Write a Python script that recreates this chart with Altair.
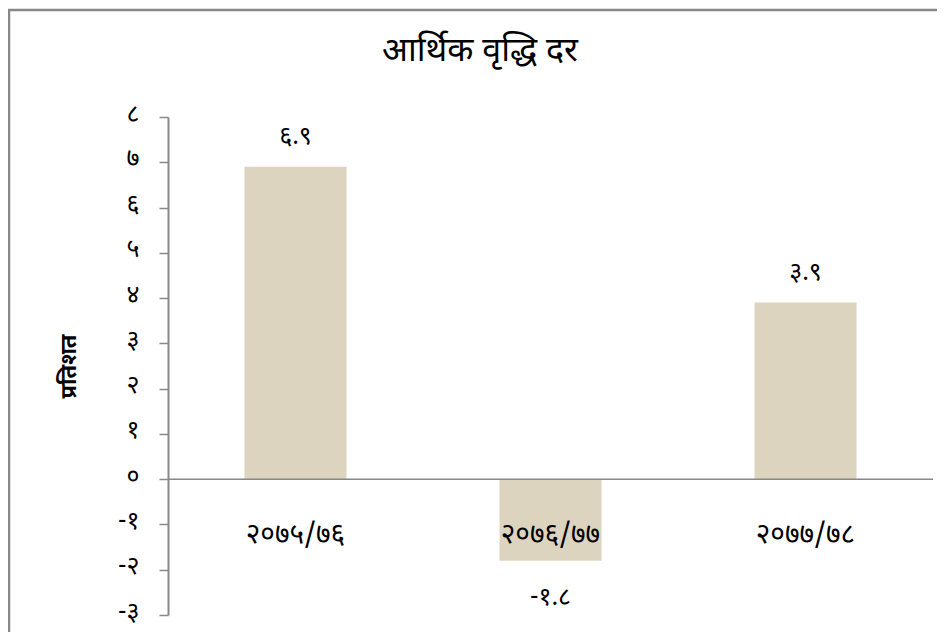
import altair as alt
import pandas as pd

title_text = "आर्थिक वृद्धि दर"
categories = ["२०७५/७६", "२०७६/७७", "२०७७/७८"]
values = [6.9, -1.8, 3.9]
value_labels = ["६.९", "-१.८", "३.९"]
tick_values = [-3, -2, -1, 0, 1, 2, 3, 4, 5, 6, 7, 8]
tick_labels = ["-३", "-२", "-१", "०", "१", "२", "३", "४", "५", "६", "७", "८"]

FONT = "Noto Sans Devanagari, Noto Sans, Lohit Devanagari, sans-serif"

df = pd.DataFrame({"cat": categories, "val": values, "lbl": value_labels})

label_expr = "[" + ",".join("'" + t + "'" for t in tick_labels) + "][datum.value + 3]"

xenc = alt.X(
    "cat:N",
    sort=categories,
    scale=alt.Scale(paddingInner=0.6, paddingOuter=0.3),
    axis=alt.Axis(
        title=None, orient="bottom", offset=-136, domain=False, ticks=False,
        labelAngle=0, labelFontSize=28, labelFont=FONT, labelColor="black",
        labelPadding=41, labelBaseline="top", zindex=2,
    ),
)
yenc = alt.Y(
    "val:Q",
    scale=alt.Scale(domain=[-3, 8], nice=False, zero=False),
    axis=alt.Axis(
        values=tick_values, labelExpr=label_expr, grid=False,
        domainColor="#888888", domainWidth=2, tickColor="#888888", tickWidth=1.5, tickSize=9,
        labelFontSize=25, labelFont=FONT, labelColor="black", labelPadding=20, labelOffset=-4,
        title="प्रतिशत", titleFont=FONT, titleFontSize=22, titleFontWeight="bold",
        titleColor="black", titlePadding=37,
    ),
)

base = alt.Chart(df)

frame = alt.Chart(alt.Data(values=[{}])).mark_rect(
    filled=False, stroke="#888888", strokeWidth=2.5
).encode(x=alt.value(-159), x2=alt.value(900), y=alt.value(-107), y2=alt.value(700))

title = alt.Chart(alt.Data(values=[{"t": title_text}])).mark_text(
    font=FONT, fontSize=34, color="black", align="center", baseline="middle"
).encode(x=alt.value(312), y=alt.value(-66), text="t:N")

bars = base.mark_bar(color="#ddd4c0").encode(x=xenc, y=yenc)

zero = alt.Chart(pd.DataFrame({"z": [0]})).mark_rule(color="#888888", strokeWidth=1.5).encode(y="z:Q")

pos_lbl = base.transform_filter("datum.val >= 0").mark_text(
    baseline="bottom", dy=-18, fontSize=25, font=FONT, color="black"
).encode(x=alt.X("cat:N", sort=categories), y="val:Q", text="lbl:N")

neg_lbl = base.transform_filter("datum.val < 0").mark_text(
    baseline="top", dy=24, fontSize=25, font=FONT, color="black"
).encode(x=alt.X("cat:N", sort=categories), y="val:Q", text="lbl:N")

chart = alt.layer(frame, title, bars, zero, pos_lbl, neg_lbl).properties(
    width=765,
    height=498,
    padding={"left": 160, "top": 109, "right": 4, "bottom": 17},
    autosize=alt.AutoSizeParams(type="none"),
).configure(background="white", view=alt.ViewConfig(stroke=None))

chart.save("out.html", embed_options={"renderer": "svg", "actions": False})
